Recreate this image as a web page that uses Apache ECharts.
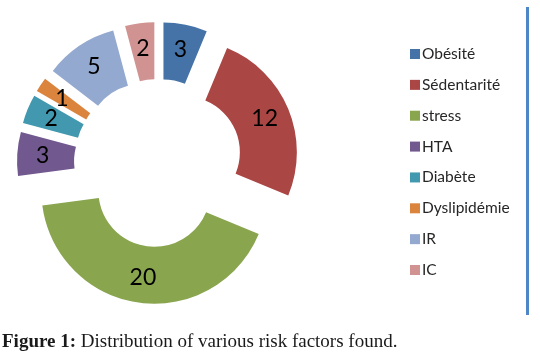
<!DOCTYPE html>
<html>
<head>
<meta charset="utf-8">
<script src="https://cdn.jsdelivr.net/npm/echarts@6/dist/echarts.min.js"></script>
<style>html,body{margin:0;padding:0;background:#fff}#c{width:540px;height:360px}</style>
</head>
<body>
<div id="c"></div>
<script>
const categories = ['Obésité', 'Sédentarité', 'stress', 'HTA', 'Diabète', 'Dyslipidémie', 'IR', 'IC'];
const values = [3, 12, 20, 3, 2, 1, 5, 2];
const colors = ['#4572a7', '#aa4643', '#89a54e', '#71588f', '#4198af', '#db843d', '#93a9cf', '#d19392'];
const caption = 'Distribution of various risk factors found.';

const chart = echarts.init(document.getElementById('c'), null, {renderer: 'canvas'});
chart.setOption({
  animation: false,
  backgroundColor: '#fff',
  color: colors,
  title: {
    text: '{b|Figure 1:} ' + caption,
    left: 0,
    top: 333,
    padding: [0, 0, 0, 2],
    textStyle: {
      fontFamily: 'Liberation Serif',
      fontSize: 19,
      fontWeight: 'normal',
      color: '#1a1a1a',
      rich: {b: {fontFamily: 'Liberation Serif', fontSize: 19, fontWeight: 'bold', color: '#1a1a1a'}}
    }
  },
  legend: {
    orient: 'vertical',
    left: 410,
    top: 46,
    padding: 0,
    itemWidth: 10,
    itemHeight: 10,
    itemGap: 14.86,
    icon: 'rect',
    data: categories,
    selectedMode: false,
    textStyle: {fontFamily: 'Lato', fontSize: 15.5, lineHeight: 16, color: '#262626', padding: [0, 0, 0, -3]}
  },
  graphic: [{
    type: 'line',
    shape: {x1: 527.5, y1: 7, x2: 527.5, y2: 315},
    style: {stroke: '#4f86c6', lineWidth: 3}
  }],
  series: [{
    type: 'pie',
    center: [158, 163],
    radius: [56, 113],
    startAngle: 90,
    clockwise: true,
    selectedMode: 'multiple',
    selectedOffset: 28,
    avoidLabelOverlap: false,
    labelLayout: {hideOverlap: false},
    label: {
      show: true,
      position: 'inside',
      formatter: '{c}',
      fontFamily: 'Lato',
      fontSize: 23,
      color: '#000',
      offset: [0, 4]
    },
    labelLine: {show: false},
    emphasis: {disabled: true},
    data: categories.map((n, i) => ({
      name: n,
      value: values[i],
      selected: true,
      itemStyle: {color: colors[i]},
      label: values[i] < 2 ? {width: 4, overflow: 'none'} : undefined
    }))
  }]
});
</script>
</body>
</html>
